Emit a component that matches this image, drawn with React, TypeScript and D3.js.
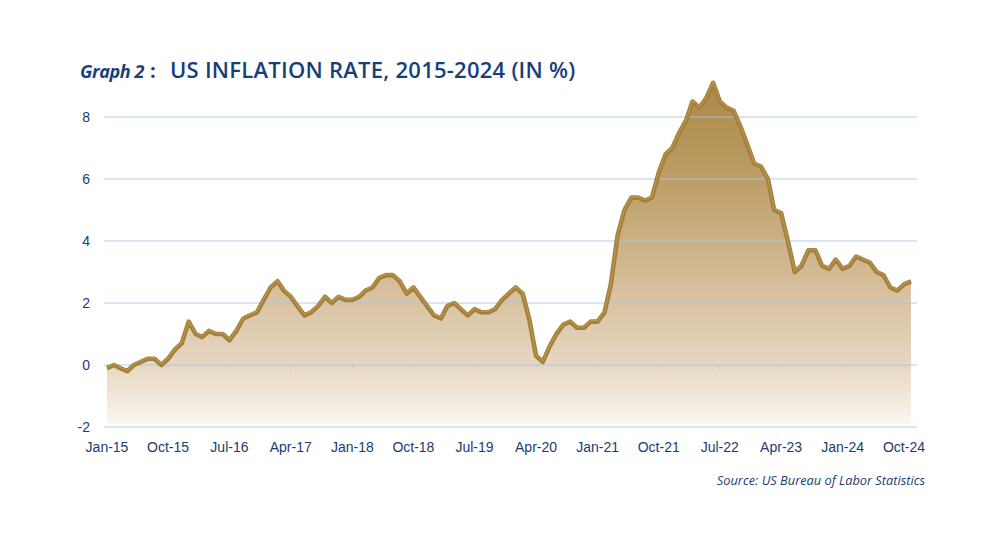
import { useEffect, useRef } from 'react'
import * as d3 from 'd3'

// US CPI, year-over-year % change, monthly from Jan 2015
const cpi2015 = [-0.1, 0.0, -0.1, -0.2, 0.0, 0.1, 0.2, 0.2, 0.0, 0.2, 0.5, 0.7]
const cpi2016 = [1.4, 1.0, 0.9, 1.1, 1.0, 1.0, 0.8, 1.1, 1.5, 1.6, 1.7, 2.1]
const cpi2017 = [2.5, 2.7, 2.4, 2.2, 1.9, 1.6, 1.7, 1.9, 2.2, 2.0, 2.2, 2.1]
const cpi2018 = [2.1, 2.2, 2.4, 2.5, 2.8, 2.9, 2.9, 2.7, 2.3, 2.5, 2.2, 1.9]
const cpi2019 = [1.6, 1.5, 1.9, 2.0, 1.8, 1.6, 1.8, 1.7, 1.7, 1.8, 2.1, 2.3]
const cpi2020 = [2.5, 2.3, 1.5, 0.3, 0.1, 0.6, 1.0, 1.3, 1.4, 1.2, 1.2, 1.4]
const cpi2021 = [1.4, 1.7, 2.6, 4.2, 5.0, 5.4, 5.4, 5.3, 5.4, 6.2, 6.8, 7.0]
const cpi2022 = [7.5, 7.9, 8.5, 8.3, 8.6, 9.1, 8.5, 8.3, 8.2, 7.7, 7.1, 6.5]
const cpi2023 = [6.4, 6.0, 5.0, 4.9, 4.0, 3.0, 3.2, 3.7, 3.7, 3.2, 3.1, 3.4]
const cpi2024 = [3.1, 3.2, 3.5, 3.4, 3.3, 3.0, 2.9, 2.5, 2.4, 2.6, 2.7]

const xTickLabels = ['Jan-15', 'Oct-15', 'Jul-16', 'Apr-17', 'Jan-18', 'Oct-18', 'Jul-19', 'Apr-20', 'Jan-21', 'Oct-21', 'Jul-22', 'Apr-23', 'Jan-24', 'Oct-24']
const yTicks = [-2, 0, 2, 4, 6, 8]

const values = [...cpi2015, ...cpi2016, ...cpi2017, ...cpi2018, ...cpi2019, ...cpi2020, ...cpi2021, ...cpi2022, ...cpi2023, ...cpi2024]
const startDate = new Date(2015, 0, 1)
const series = values.map((v, i) => ({ date: d3.timeMonth.offset(startDate, i), value: v }))
const parseTick = d3.timeParse('%b-%y')

const W = 1000
const H = 533
const NAVY = '#1b3c72'

export default function App() {
  const svgRef = useRef<SVGSVGElement>(null)

  useEffect(() => {
    if (!svgRef.current) return
    const svg = d3.select(svgRef.current)
    svg.selectAll('*').remove()

    const x = d3.scaleTime()
      .domain([startDate, new Date(2024, 9, 1)])
      .range([107, 904])
    const y = d3.scaleLinear().domain([-2, 8]).range([427, 117])

    const defs = svg.append('defs')
    const grad = defs.append('linearGradient')
      .attr('id', 'areaFill')
      .attr('gradientUnits', 'userSpaceOnUse')
      .attr('x1', 0).attr('x2', 0)
      .attr('y1', y(9.2)).attr('y2', y(-2))
    const stops: [number, string][] = [
      [0, '#ab8848'], [0.3, '#bf9f68'], [0.6, '#d6bf9c'], [0.82, '#e6d7c1'], [1, '#fbf8f3'],
    ]
    grad.selectAll('stop').data(stops).enter().append('stop')
      .attr('offset', d => d[0])
      .attr('stop-color', d => d[1])

    // filled area under the line
    const area = d3.area<{ date: Date; value: number }>()
      .x(d => x(d.date))
      .y0(y(-1.9))
      .y1(d => y(d.value))
    svg.append('path').datum(series).attr('d', area).attr('fill', 'url(#areaFill)')

    // gridlines, drawn over the fill
    svg.append('g').selectAll('line').data(yTicks).enter().append('line')
      .attr('x1', 104).attr('x2', 917)
      .attr('y1', d => y(d)).attr('y2', d => y(d))
      .attr('stroke', '#a3c8ea')
      .attr('stroke-opacity', 0.9)
      .attr('stroke-width', 1.2)

    // small ticks on the zero line
    svg.append('g').selectAll('line').data(xTickLabels).enter().append('line')
      .attr('x1', d => x(parseTick(d)!)).attr('x2', d => x(parseTick(d)!))
      .attr('y1', y(0)).attr('y2', y(0) + 4)
      .attr('stroke', '#b9c4cf')
      .attr('stroke-width', 1)

    const line = d3.line<{ date: Date; value: number }>()
      .x(d => x(d.date))
      .y(d => y(d.value))
    svg.append('path').datum(series).attr('d', line)
      .attr('fill', 'none')
      .attr('stroke', '#a4803b')
      .attr('stroke-width', 4.6)
      .attr('stroke-linejoin', 'round')
    svg.append('path').datum(series).attr('d', line)
      .attr('fill', 'none')
      .attr('stroke', '#b9964f')
      .attr('stroke-width', 1.2)
      .attr('stroke-linejoin', 'round')
      .attr('transform', 'translate(0,-1)')

    // y labels
    svg.append('g').selectAll('text').data(yTicks).enter().append('text')
      .attr('x', 90).attr('y', d => y(d) + 5)
      .attr('text-anchor', 'end')
      .attr('font-family', '"Liberation Sans", Arial, sans-serif')
      .attr('font-size', 14)
      .attr('fill', NAVY)
      .text(d => String(d))

    // x labels
    svg.append('g').selectAll('text').data(xTickLabels).enter().append('text')
      .attr('x', d => x(parseTick(d)!)).attr('y', 452)
      .attr('text-anchor', 'middle')
      .attr('font-family', '"Liberation Sans", Arial, sans-serif')
      .attr('font-size', 14)
      .attr('fill', NAVY)
      .text(d => d)

    // title
    const title = svg.append('g').attr('fill', '#173f7c').attr('font-family', '"Open Sans", sans-serif')
    title.append('text')
      .attr('x', 80).attr('y', 78)
      .attr('font-style', 'italic').attr('font-weight', 700)
      .attr('font-size', 18)
      .attr('letter-spacing', -0.4)
      .text('Graph 2')
    title.append('text')
      .attr('x', 150).attr('y', 78)
      .attr('font-weight', 700)
      .attr('font-size', 20)
      .text(':')
    title.append('text')
      .attr('x', 170).attr('y', 78)
      .attr('font-weight', 600)
      .attr('font-size', 22)
      .attr('letter-spacing', 0.25)
      .text('US INFLATION RATE, 2015-2024 (IN %)')

    svg.append('text')
      .attr('x', 925).attr('y', 485)
      .attr('text-anchor', 'end')
      .attr('font-family', '"Open Sans", sans-serif')
      .attr('font-style', 'italic')
      .attr('font-size', 12.8)
      .attr('fill', NAVY)
      .text('Source: US Bureau of Labor Statistics')
  }, [])

  return (
    <svg
      ref={svgRef}
      width={W}
      height={H}
      style={{ position: 'absolute', left: 0, top: 0, background: '#fff' }}
    />
  )
}
